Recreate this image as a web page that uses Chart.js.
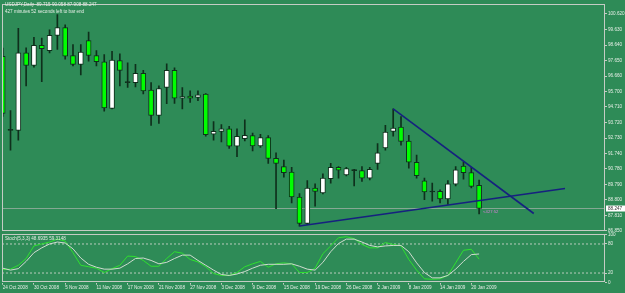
<!DOCTYPE html>
<html>
<head>
<meta charset="utf-8">
<script src="https://cdn.jsdelivr.net/npm/chart.js@4.4.0/dist/chart.umd.min.js"></script>
<style>
body { margin:0; background:#2e8b57; width:625px; height:293px; overflow:hidden; position:relative; }
canvas { position:absolute; left:0; }
#main { top:0; }
#stoch { top:229px; }
</style>
</head>
<body>
<canvas id="main" width="625" height="235"></canvas>
<canvas id="stoch" width="625" height="64"></canvas>
<script>
// USDJPY daily bars, 24 Oct 2008 .. 21 Jan 2009
var opens  = [97.93,93.22,93.22,98.14,97.35,98.63,98.29,99.26,99.76,97.98,
              97.41,98.92,97.98,97.58,94.62,97.66,96.25,96.25,96.85,95.78,
              94.16,95.94,97.03,95.27,95.40,95.31,95.53,92.97,93.15,93.32,
              92.21,92.69,92.88,92.23,92.76,91.44,90.91,90.56,88.98,87.30,
              89.55,89.24,90.14,90.87,90.39,90.66,90.66,90.18,91.12,92.10,
              93.15,93.42,92.54,91.19,90.01,89.30,89.34,88.86,89.80,90.95,
              90.53,89.715];
var highs  = [98.45,94.47,99.71,98.46,99.13,99.09,99.61,100.58,99.93,98.67,
              98.67,99.46,98.29,98.04,98.25,98.08,97.51,97.41,97.03,96.25,
              96.05,97.45,97.20,95.94,95.73,95.73,95.56,93.78,93.59,93.47,
              93.32,93.89,93.05,92.97,92.88,91.79,91.33,90.87,89.19,90.03,
              89.82,90.45,91.12,90.91,90.87,90.74,90.91,90.87,92.38,93.53,
              94.58,94.10,92.90,91.64,90.18,89.86,89.44,90.03,90.91,91.22,
              90.87,90.058];
var lows   = [94.10,91.96,92.59,96.05,97.24,96.32,98.14,98.37,97.75,97.31,
              96.74,97.62,97.31,94.43,94.58,96.05,95.94,95.98,95.53,93.53,
              93.66,94.92,94.93,94.58,95.00,95.10,92.84,92.59,92.48,92.07,
              91.54,92.54,91.91,92.13,91.12,88.23,90.24,88.61,87.13,87.24,
              88.39,89.18,89.86,90.18,90.32,89.69,89.97,90.07,90.74,91.96,
              92.84,92.27,90.81,90.18,88.81,88.71,88.61,88.50,89.69,90.12,
              89.55,87.908];
var closes = [94.29,93.22,98.14,97.35,98.63,98.42,99.26,99.76,97.93,97.41,
              98.20,97.98,97.58,94.64,97.68,97.03,96.25,96.85,95.73,94.16,
              95.88,97.03,95.27,95.37,95.27,95.48,92.95,93.15,93.32,92.21,
              92.84,92.90,92.23,92.76,91.44,91.12,90.53,88.98,87.30,89.55,
              89.34,90.18,90.87,90.68,90.78,90.66,90.18,90.74,91.79,93.11,
              93.36,92.52,91.19,90.34,89.30,89.30,88.86,89.82,90.70,90.53,
              89.65,88.247];

// Stochastic(5,3,3)
var stochMain   = [27,28,36,50,76,80,84,90,86,62, 36,33,30,21,29,36,55,54,46,34,
                   34,50,64,61,48,43,33,19,15,15, 21,33,39,44,32,39,41,39,21,21,
                   30,60,76,93,95,91,79,72,72,83, 79,76,48,26,8,7,8,15,41,67,
                   69,48.6935];
var stochSignal = [30,26,29,44,62,72,80,84,82,70, 51,38,32,28,28,30,39,50,51,46,
                   39,42,50,57,57,46,36,26,17,15, 18,23,30,36,38,38,38,39,34,28,
                   26,42,64,81,90,90,84,77,74,76, 77,77,64,41,21,10,10,15,28,44,
                   58,59.3148];

// date labels, one every 4 bars
var dateLabels = ['24 Oct 2008','30 Oct 2008','5 Nov 2008','11 Nov 2008','17 Nov 2008',
                  '21 Nov 2008','27 Nov 2008','3 Dec 2008','9 Dec 2008','15 Dec 2008',
                  '19 Dec 2008','26 Dec 2008','2 Jan 2009','8 Jan 2009','14 Jan 2009','20 Jan 2009'];
var priceTicks = [100.62,99.63,98.64,97.65,96.66,95.70,94.71,93.72,92.73,91.74,90.78,89.79,88.80,87.81,86.85];
var stochTicks = [0,20,80,100];
var stochLevels = [20,80];

// trend lines drawn on the chart (bar index, price)
var supportLine = [{x:38, y:87.13}, {x:72, y:89.52}];
var resistLine  = [{x:50, y:94.58}, {x:68, y:87.93}];

var bid = 88.247;
var xMin = -0.09, xMax = 77.12;

const TXT = '#e6eee6';
const FRAME = '#c4ccc4';
const WICK = '#0f2f1c';

Chart.defaults.font.family = 'Liberation Sans';
Chart.defaults.font.size = 4.6;
Chart.defaults.color = TXT;

var wicks = [], bodies = [], bodyColors = [];
for (let i = 0; i < opens.length; i++) {
    wicks.push({x: i, y: [lows[i], highs[i]]});
    bodies.push({x: i, y: [opens[i], closes[i]]});
    if (closes[i] > opens[i]) bodyColors.push('#ffffff');
    else if (closes[i] < opens[i]) bodyColors.push('#00ff00');
    else bodyColors.push(WICK);
}

function frame(chart) {
    const a = chart.chartArea, c = chart.ctx;
    c.save();
    c.strokeStyle = FRAME;
    c.lineWidth = 1;
    c.strokeRect(Math.round(a.left) + 0.5, Math.round(a.top) + 0.5,
                 Math.round(a.right - a.left) - 1, Math.round(a.bottom - a.top) - 1);
    c.restore();
}

const mainPlugin = {
    id: 'mainDeco',
    afterDraw(chart) {
        frame(chart);
        const c = chart.ctx;
        c.save();
        c.font = '4.6px "Liberation Sans"';
        c.fillStyle = TXT;
        c.textBaseline = 'middle';
        c.fillText('USDJPY,Daily  89.715 90.058 87.908 88.247', 5, 5);
        c.fillText('427 minutes 52 seconds left to bar end', 5, 11.5);
        // bid label on the price axis
        const y = chart.scales.y.getPixelForValue(bid);
        c.fillStyle = '#ffffff';
        c.fillRect(606, y - 3, 19, 6);
        c.fillStyle = '#333333';
        c.fillText(bid.toFixed(3), 608, y + 0.3);
        // time left marker
        const x = chart.scales.x.getPixelForValue(61);
        c.fillStyle = '#d77fd7';
        c.font = '4.2px "Liberation Sans"';
        c.fillText('<427:52', x + 4, y + 3);
        c.restore();
    }
};

const stochPlugin = {
    id: 'stochDeco',
    afterDraw(chart) {
        frame(chart);
        const c = chart.ctx;
        c.save();
        c.font = '4.6px "Liberation Sans"';
        c.fillStyle = TXT;
        c.textBaseline = 'middle';
        c.fillText('Stoch(5,3,3) 48.6935 59.3148', 5, 9.7);
        c.restore();
    }
};

function pintarMain() {
    const ctx = document.getElementById('main').getContext('2d');
    new Chart(ctx, {
        data: {
            datasets: [
                { type: 'line', data: resistLine, borderColor: '#16217f', borderWidth: 1.6, pointRadius: 0 },
                { type: 'line', data: supportLine, borderColor: '#16217f', borderWidth: 1.6, pointRadius: 0 },
                { type: 'bar', data: bodies, backgroundColor: bodyColors, borderColor: WICK,
                  borderWidth: 1, borderSkipped: false, barThickness: 5, grouped: false, minBarLength: 1 },
                { type: 'bar', data: wicks, backgroundColor: WICK, barThickness: 1, grouped: false },
                { type: 'line', data: [{x: xMin, y: bid}, {x: xMax, y: bid}],
                  borderColor: '#86a894', borderWidth: 1, pointRadius: 0 }
            ]
        },
        options: {
            responsive: false,
            animation: false,
            devicePixelRatio: 1,
            layout: { padding: { top: 2, left: 2, right: 0, bottom: 3 } },
            plugins: { legend: { display: false }, tooltip: { enabled: false } },
            scales: {
                x: { type: 'linear', min: xMin, max: xMax, offset: false, display: false },
                y: {
                    type: 'linear', position: 'right', min: 86.802, max: 101.268,
                    afterBuildTicks: s => { s.ticks = priceTicks.map(v => ({value: v})); },
                    afterFit: s => { s.width = 20; },
                    ticks: { callback: v => Number(v).toFixed(3), padding: 1, autoSkip: false, color: TXT },
                    grid: { drawOnChartArea: false, drawTicks: true, tickLength: 2, color: FRAME },
                    border: { display: false }
                }
            }
        },
        plugins: [mainPlugin]
    });
}

function pintarStoch() {
    const ctx = document.getElementById('stoch').getContext('2d');
    const levelSets = stochLevels.map(l => ({
        type: 'line', data: [{x: xMin, y: l}, {x: xMax, y: l}],
        borderColor: '#b9cbbd', borderWidth: 1, borderDash: [2, 2], pointRadius: 0
    }));
    new Chart(ctx, {
        data: {
            datasets: [
                { type: 'line', data: stochSignal.map((v, i) => ({x: i, y: v})),
                  borderColor: '#cfdccf', borderWidth: 1, pointRadius: 0 },
                { type: 'line', data: stochMain.map((v, i) => ({x: i, y: v})),
                  borderColor: '#2fe02f', borderWidth: 1, pointRadius: 0 }
            ].concat(levelSets)
        },
        options: {
            responsive: false,
            animation: false,
            devicePixelRatio: 1,
            layout: { padding: { top: 5.3, left: 2, right: 0, bottom: 0 } },
            plugins: { legend: { display: false }, tooltip: { enabled: false } },
            scales: {
                x: {
                    type: 'linear', min: xMin, max: xMax, offset: false,
                    afterBuildTicks: s => { s.ticks = dateLabels.map((d, k) => ({value: k * 4})); },
                    afterFit: s => { s.height = 10.3; },
                    ticks: { callback: v => dateLabels[Math.round(v / 4)], align: 'start',
                             autoSkip: false, maxRotation: 0, padding: 0.5, color: TXT },
                    grid: { drawOnChartArea: false, drawTicks: true, tickLength: 2, color: FRAME },
                    border: { display: false }
                },
                y: {
                    type: 'linear', position: 'right', min: 0, max: 100,
                    afterBuildTicks: s => { s.ticks = stochTicks.map(v => ({value: v})); },
                    afterFit: s => { s.width = 20; },
                    ticks: { padding: 1, autoSkip: false, color: TXT },
                    grid: { drawOnChartArea: false, drawTicks: true, tickLength: 2, color: FRAME },
                    border: { display: false }
                }
            }
        },
        plugins: [stochPlugin]
    });
}

pintarMain();
pintarStoch();
</script>
</body>
</html>
